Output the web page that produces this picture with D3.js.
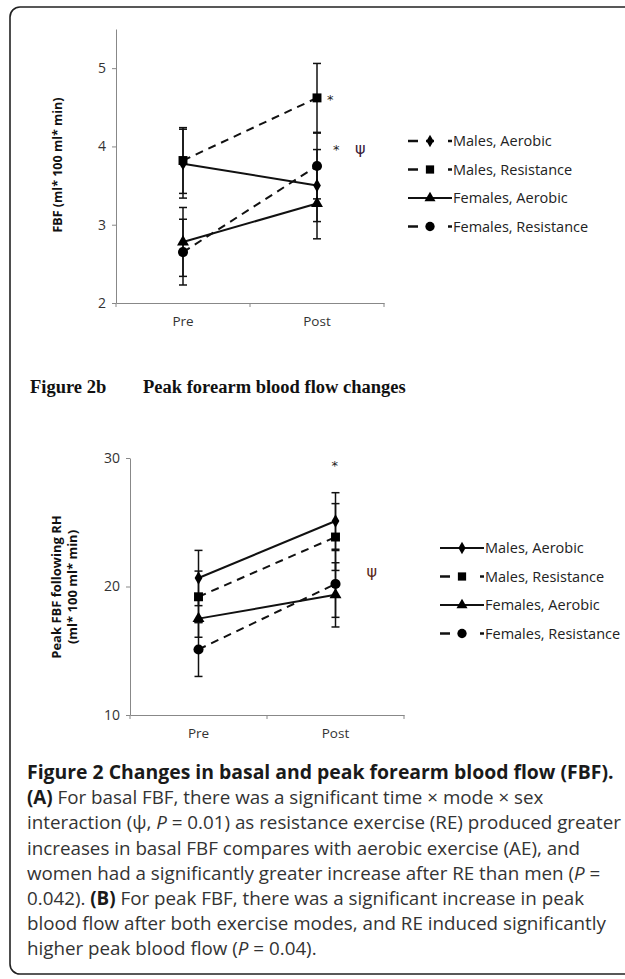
<!DOCTYPE html>
<html>
<head>
  <meta charset="utf-8">
  <title>Figure 2 - Forearm blood flow</title>
  <style>
    body { margin: 0; background: #fff; }
  </style>
</head>
<body>
  <div id="chart"></div>

  <script src="https://d3js.org/d3.v7.min.js"></script>
  <script type="text/javascript">
    // ---- data ----
    var groups = ["Pre", "Post"];
    var seriesNames = ["Males, Aerobic", "Males, Resistance", "Females, Aerobic", "Females, Resistance"];

    // panel A: basal FBF
    var basalMean = [[3.78, 3.50], [3.82, 4.62], [2.78, 3.27], [2.65, 3.75]];
    var basalErr  = [[0.44, 0.46], [0.42, 0.44], [0.44, 0.45], [0.42, 0.42]];
    var basalTicks = [2, 3, 4, 5];

    // panel B: peak FBF following RH
    var peakMean = [[20.66, 25.1], [19.2, 23.85], [17.5, 19.35], [15.1, 20.2]];
    var peakErr  = [[2.15, 2.2], [2.0, 2.6], [1.45, 2.5], [2.1, 2.6]];
    var peakTicks = [10, 20, 30];

    // ---- styles ----
    var SANS = "Open Sans, sans-serif";
    var markers = [d3.symbolDiamond, d3.symbolSquare, d3.symbolTriangle, d3.symbolCircle];
    var markerSize = [52, 80, 62, 80];
    var lineDashed = [false, true, false, true];
    var legendDashedA = [true, true, false, true];
    var legendDashedB = [false, true, false, true];

    var W = 625, H = 979;
    var svg = d3.select("#chart").append("svg")
      .attr("width", W).attr("height", H)
      .attr("font-family", SANS);

    // outer rounded frame
    svg.append("rect")
      .attr("x", 10).attr("y", 7).attr("width", 640).attr("height", 967)
      .attr("rx", 10).attr("ry", 10)
      .attr("fill", "none").attr("stroke", "#222").attr("stroke-width", 1.6);

    function panel(opt) {
      var x = d3.scaleBand().domain(groups).range([opt.x0, opt.x1]).padding(0);
      var y = d3.scaleLinear().domain(opt.domain).range([opt.yBottom, opt.yTop]);
      var cx = function(g) { return x(g) + x.bandwidth() / 2; };

      // axes
      var yAxis = svg.append("g")
        .attr("transform", "translate(" + opt.x0 + ",0)")
        .call(d3.axisLeft(y).tickValues(opt.ticks).tickFormat(d3.format("d"))
          .tickSize(4).tickPadding(6).tickSizeOuter(0));
      yAxis.select(".domain").attr("stroke", "#888");
      yAxis.selectAll(".tick line").attr("stroke", "#888");
      yAxis.selectAll(".tick text").attr("font-size", 14).attr("fill", "#333")
        .attr("font-family", SANS);

      var xAxis = svg.append("g")
        .attr("transform", "translate(0," + opt.yBottom + ")")
        .call(d3.axisBottom(x).tickSize(0).tickPadding(13));
      xAxis.select(".domain").attr("stroke", "#888");
      xAxis.selectAll(".tick text").attr("font-size", 13.5).attr("fill", "#333")
        .attr("font-family", SANS);
      // category separators (Excel style)
      xAxis.selectAll(".sep")
        .data([opt.x0, opt.x0 + x.bandwidth(), opt.x1])
        .enter().append("line")
        .attr("x1", function(d) { return d; }).attr("x2", function(d) { return d; })
        .attr("y1", 0).attr("y2", 4)
        .attr("stroke", "#888");

      // y title
      var title = svg.append("text")
        .attr("transform", "translate(" + opt.titleX + "," + opt.titleY + ") rotate(-90)")
        .attr("text-anchor", "middle")
        .attr("font-weight", "bold")
        .attr("font-size", opt.titleSize)
        .attr("fill", "#111");
      opt.title.forEach(function(t, i) {
        title.append("tspan").attr("x", 0).attr("dy", i === 0 ? 0 : 16).text(t);
      });

      // error bars
      var capW = 4;
      opt.mean.forEach(function(vals, s) {
        vals.forEach(function(v, gi) {
          var e = opt.err[s][gi], px = cx(groups[gi]);
          var g = svg.append("g").attr("stroke", "#111").attr("stroke-width", 1.5);
          g.append("line").attr("x1", px).attr("x2", px).attr("y1", y(v - e)).attr("y2", y(v + e));
          [v - e, v + e].forEach(function(c) {
            g.append("line").attr("x1", px - capW).attr("x2", px + capW)
              .attr("y1", y(c)).attr("y2", y(c));
          });
        });
      });

      // lines
      var line = d3.line()
        .x(function(d, i) { return cx(groups[i]); })
        .y(function(d) { return y(d); });
      opt.mean.forEach(function(vals, s) {
        svg.append("path").datum(vals)
          .attr("d", line)
          .attr("fill", "none").attr("stroke", "#111").attr("stroke-width", 2)
          .attr("stroke-dasharray", lineDashed[s] ? "8,6" : null);
      });

      // markers
      opt.mean.forEach(function(vals, s) {
        vals.forEach(function(v, gi) {
          svg.append("path")
            .attr("d", d3.symbol().type(markers[s]).size(markerSize[s]))
            .attr("transform", "translate(" + cx(groups[gi]) + "," + y(v) + ")")
            .attr("fill", "#000");
        });
      });

      // significance marks
      opt.notes.forEach(function(n) {
        svg.append("text")
          .attr("x", cx(n.group) + n.dx)
          .attr("y", y(n.value))
          .attr("dy", "0.35em")
          .attr("font-size", n.size)
          .attr("fill", n.color)
          .attr("font-family", "DejaVu Sans, sans-serif")
          .text(n.text);
      });

      // legend
      var lg = svg.append("g").attr("transform", "translate(" + opt.legX + "," + opt.legY + ")");
      seriesNames.forEach(function(name, s) {
        var row = lg.append("g").attr("transform", "translate(0," + (s * 28.5) + ")");
        var dashed = opt.legendDashed[s];
        if (dashed) {
          row.append("line").attr("x1", 0).attr("x2", 10).attr("stroke", "#111").attr("stroke-width", 2.5);
          row.append("line").attr("x1", 18).attr("x2", 26).attr("stroke", "#111").attr("stroke-width", 2.5);
          row.append("line").attr("x1", 40).attr("x2", 44).attr("stroke", "#111").attr("stroke-width", 2.5);
        } else {
          row.append("line").attr("x1", 0).attr("x2", 44).attr("stroke", "#111").attr("stroke-width", 2);
        }
        row.append("path")
          .attr("d", d3.symbol().type(markers[s]).size(markerSize[s] * 0.85))
          .attr("transform", "translate(22,0)")
          .attr("fill", "#000");
        row.append("text")
          .attr("x", 45).attr("dy", "0.35em")
          .attr("font-size", 14.5).attr("fill", "#222")
          .attr("font-family", SANS)
          .text(name);
      });
    }

    panel({
      x0: 116, x1: 384, yTop: 29, yBottom: 303,
      domain: [2, 5.5], ticks: basalTicks,
      mean: basalMean, err: basalErr,
      title: ["FBF (ml* 100 ml* min)"], titleX: 62, titleY: 165, titleSize: 12.5,
      legX: 408, legY: 141, legendDashed: legendDashedA,
      notes: [
        { group: "Post", value: 4.6, dx: 10, text: "*", size: 13, color: "#222" },
        { group: "Post", value: 3.96, dx: 16, text: "*", size: 13, color: "#222" },
        { group: "Post", value: 3.98, dx: 38, text: "ψ", size: 16, color: "#3a1a3a" }
      ]
    });

    // panel B heading
    svg.append("text")
      .attr("x", 30).attr("y", 393)
      .attr("font-family", "Liberation Serif, serif").attr("font-weight", "bold")
      .attr("font-size", 18.5).attr("fill", "#111")
      .text("Figure 2b");
    svg.append("text")
      .attr("x", 143).attr("y", 393)
      .attr("font-family", "Liberation Serif, serif").attr("font-weight", "bold")
      .attr("font-size", 18.5).attr("fill", "#111")
      .text("Peak forearm blood flow changes");

    panel({
      x0: 130, x1: 404, yTop: 458, yBottom: 715,
      domain: [10, 30], ticks: peakTicks,
      mean: peakMean, err: peakErr,
      title: ["Peak FBF following RH", "(ml* 100 ml* min)"], titleX: 61, titleY: 587, titleSize: 13,
      legX: 440, legY: 548, legendDashed: legendDashedB,
      notes: [
        { group: "Post", value: 29.4, dx: -4, text: "*", size: 13, color: "#222" },
        { group: "Post", value: 21.2, dx: 31, text: "ψ", size: 16, color: "#5a2a1a" }
      ]
    });

    // caption
    var capLines = [
      [{ t: "Figure 2 Changes in basal and peak forearm blood flow (FBF).", b: true }],
      [{ t: "(A)", b: true }, { t: " For basal FBF, there was a significant time \u00d7 mode \u00d7 sex" }],
      [{ t: "interaction (\u03c8, " }, { t: "P", i: true }, { t: " = 0.01) as resistance exercise (RE) produced greater" }],
      [{ t: "increases in basal FBF compares with aerobic exercise (AE), and" }],
      [{ t: "women had a significantly greater increase after RE than men (" }, { t: "P", i: true }, { t: " =" }],
      [{ t: "0.042). " }, { t: "(B)", b: true }, { t: " For peak FBF, there was a significant increase in peak" }],
      [{ t: "blood flow after both exercise modes, and RE induced significantly" }],
      [{ t: "higher peak blood flow (" }, { t: "P", i: true }, { t: " = 0.04)." }]
    ];
    var cap = svg.append("g");
    capLines.forEach(function(parts, li) {
      var txt = cap.append("text")
        .attr("x", 27).attr("y", 779 + li * 25.2)
        .attr("font-family", SANS)
        .attr("font-size", li === 0 ? 19.4 : 18.8).attr("fill", "#333");
      parts.forEach(function(p) {
        txt.append("tspan")
          .attr("font-weight", p.b ? "bold" : null)
          .attr("font-style", p.i ? "italic" : null)
          .attr("fill", p.b ? "#1a1a1a" : null)
          .text(p.t);
      });
    });
  </script>
</body>
</html>
